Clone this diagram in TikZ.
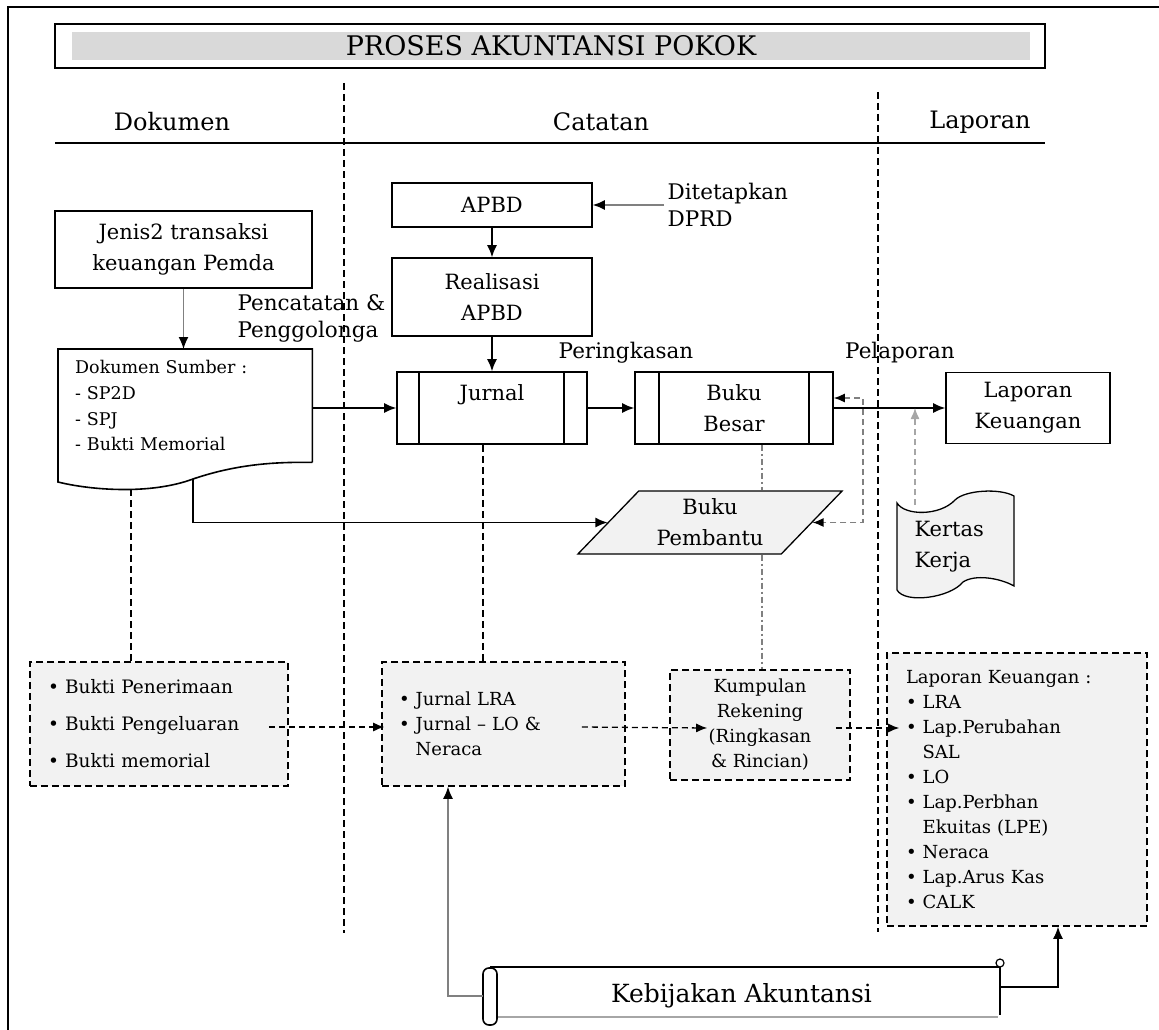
\documentclass[tikz,border=0pt]{standalone}
\usepackage{fontspec}
\setmainfont{DejaVu Serif}
\usetikzlibrary{shapes,arrows.meta,calc}
\definecolor{titlegray}{HTML}{D9D9D9}
\definecolor{boxgray}{HTML}{F2F2F2}
\definecolor{linegray}{HTML}{808080}
\definecolor{softgray}{HTML}{A6A6A6}
\newcommand{\fstitle}{\fontsize{27}{32}\selectfont}
\newcommand{\fshead}{\fontsize{24}{28}\selectfont}
\newcommand{\fsmain}{\fontsize{21}{31}\selectfont}
\newcommand{\fslabel}{\fontsize{21.5}{27}\selectfont}
\newcommand{\fsdoc}{\fontsize{17.5}{25.7}\selectfont}
\newcommand{\fsitem}{\fontsize{18}{25}\selectfont}
\newcommand{\fslist}{\fontsize{18.5}{37}\selectfont}
\newcommand{\fsscroll}{\fontsize{25}{30}\selectfont}
\tikzstyle{line} = [draw, -{Latex[length=12pt,width=10pt]}, line width=1.4pt]
\tikzstyle{gline} = [draw, -{Latex[length=12pt,width=10pt,black]}, line width=1.4pt, linegray]
\tikzstyle{dline} = [draw, -{Latex[length=11pt,width=9pt]}, line width=1.3pt, dash pattern=on 6pt off 4pt]
\tikzstyle{divider} = [draw, line width=1.3pt, dash pattern=on 7pt off 4pt]
\tikzstyle{gdash} = [draw, line width=1.3pt, linegray, dash pattern=on 6pt off 3pt on 2pt off 3pt]
\tikzstyle{block} = [draw, rectangle, align=center, line width=1.6pt, inner sep=0pt]
\tikzstyle{dbox} = [draw, rectangle, fill=boxgray, line width=1.6pt, dash pattern=on 7pt off 4pt, align=left]

\begin{document}
\begin{tikzpicture}[x=1pt, y=-1pt, font=\fsmain]
    \useasboundingbox (0,0) rectangle (1159,1030);
    % frame and title
    \draw[line width=1.5pt] (8,1030) -- (8,7) -- (1159,7);
    \node[draw, line width=1.8pt, minimum width=990pt, minimum height=44pt] (title) at (550,46) {};
    \node[fill=titlegray, inner sep=0pt, minimum width=958pt, minimum height=28pt, font=\fstitle] (titletext) at (551,46) {PROSES AKUNTANSI POKOK};
    \node[font=\fshead] (hdok) at (172,122) {Dokumen};
    \node[font=\fshead] (hcat) at (601,122) {Catatan};
    \node[font=\fshead] (hlap) at (980,122) {Laporan};
    \draw[line width=1.5pt] (55,143) -- (1045,143);
    \draw[divider] (344,83) -- (344,933);
    \draw[divider] (878,92) -- (878,932);

    % upper flow
    \node[block, minimum width=257pt, minimum height=77pt] (jenis) at (183.5,249.5) {Jenis2 transaksi\\keuangan Pemda};
    \node[block, minimum width=200pt, minimum height=44pt] (apbd) at (492,205) {APBD};
    \node[align=left, anchor=west, font=\fslabel] (dprd) at (664,205) {Ditetapkan\\DPRD};
    \node[block, minimum width=200pt, minimum height=78pt] (real) at (492,297) {Realisasi\\APBD};
    \node[align=left, anchor=west, font=\fslabel] (catat) at (234,318) {Pencatatan \&\\Penggolonga};
    \node[block, minimum width=190pt, minimum height=72pt] (jurnal) at (492,408) {Jurnal\\\mbox{}};
    \node[block, minimum width=198pt, minimum height=72pt] (bbesar) at (734,408) {Buku\\Besar};
    \node[block, minimum width=164pt, minimum height=71pt] (lapk) at (1028,408) {Laporan\\Keuangan};
    \node[font=\fslabel] (ringkas) at (626,353) {Peringkasan};
    \node[font=\fslabel] (lapor) at (900,353) {Pelaporan};
    \draw[line width=1.6pt] ($(jurnal.north west)+(23,0)$) -- ($(jurnal.south west)+(23,0)$);
    \draw[line width=1.6pt] ($(jurnal.north east)+(-24,0)$) -- ($(jurnal.south east)+(-24,0)$);
    \draw[line width=1.6pt] ($(bbesar.north west)+(25,0)$) -- ($(bbesar.south west)+(25,0)$);
    \draw[line width=1.6pt] ($(bbesar.north east)+(-25,0)$) -- ($(bbesar.south east)+(-25,0)$);

    % source document
    \node[minimum width=254pt, minimum height=113pt, text width=220pt, inner xsep=17pt, align=left, anchor=north west, font=\fsdoc] (docsrc) at (58,349) {Dokumen Sumber :\\- SP2D\\- SPJ\\- Bukti Memorial};
    \draw[line width=1.6pt] (docsrc.south east) -- (docsrc.north east) -- (docsrc.north west) -- (58,482) .. controls (90,490) and (150,495) .. (193,479) .. controls (240,463) and (280,462) .. (docsrc.south east);
    \coordinate (docw) at (131,489);
    \coordinate (docv) at (193,479);

    % Buku Pembantu and Kertas Kerja
    \node[trapezium, trapezium left angle=46, trapezium right angle=134, draw, line width=1.3pt, fill=boxgray, minimum width=246pt, minimum height=63pt, inner sep=0pt, align=center] (bp) at (710,522.5) {Buku\\Pembantu};
    \draw[line width=1.3pt, fill=boxgray] (897,590) -- (897,503) .. controls (905,516) and (940,516) .. (955,500) .. controls (965,490) and (1000,488) .. (1014,496) -- (1014,586) .. controls (1000,578) and (975,574) .. (963,582) .. controls (950,598) and (905,604) .. (897,590) -- cycle;
    \node[align=left, anchor=north west] (kertas) at (911,518) {Kertas\\Kerja};
    \coordinate (kktop) at (915,505);
    \coordinate (elbow) at (863,460);

    % lower boxes
    \node[dbox, minimum width=258pt, minimum height=124pt, text width=222pt, inner xsep=18pt, font=\fslist] (bukti) at (159,724) {• Bukti Penerimaan\\• Bukti Pengeluaran\\• Bukti memorial};
    \node[dbox, minimum width=243pt, minimum height=124pt, text width=209pt, inner xsep=17pt, font=\fsitem] (jlra) at (503.5,724) {• Jurnal LRA\\• Jurnal – LO \&\\\phantom{• }Neraca};
    \node[dbox, minimum width=180pt, minimum height=110pt, align=center, font=\fsitem, inner xsep=0pt] (krek) at (760,725) {Kumpulan\\Rekening\\(Ringkasan\\\& Rincian)};
    \node[dbox, minimum width=260pt, minimum height=273pt, text width=222pt, inner xsep=19pt, font=\fsitem] (lkbox) at (1017,789.5) {Laporan Keuangan :\\• LRA\\• Lap.Perubahan\\\phantom{• }SAL\\• LO\\• Lap.Perbhan\\\phantom{• }Ekuitas (LPE)\\• Neraca\\• Lap.Arus Kas\\• CALK};

    % scroll
    \node[minimum width=517pt, minimum height=58pt, font=\fsscroll] (scroll) at (741.5,996) {Kebijakan Akuntansi};
    \draw[line width=1.6pt] (490,967) -- (1000,967) -- (1000,1015);
    \draw[line width=2pt, softgray] (497,1017) -- (998,1017);
    \draw[line width=1.2pt, fill=white] (1000,963) circle (4);
    \draw[line width=1.6pt, fill=white, rounded corners=6pt] (483,968) rectangle (497,1025);

    % connectors
    \path[gline] (jenis.south) -- (jenis.south |- docsrc.north);
    \path[gline] (dprd.west) -- (apbd.east);
    \path[line] (apbd) -- (real);
    \path[line] (real) -- (jurnal);
    \path[line] (docsrc.east |- jurnal.west) -- (jurnal.west);
    \path[line] (jurnal) -- (bbesar);
    \path[line] (bbesar) -- (lapk);
    \path[line] (docv) |- (bp.west);
    \path[dline, linegray, {Latex[length=11pt,width=9pt,black]}-{Latex[length=11pt,width=9pt,black]}] ($(bbesar.east)+(0,-10)$) -| (elbow) |- (bp.east);
    \path[dline, softgray] (kktop) -- (kktop |- lapk.west);
    \draw[divider] (docw) -- (docw |- bukti.north);
    \draw[divider] ($(jurnal.south)+(-9,0)$) coordinate (jd) -- (jd |- jlra.north);
    \draw[gdash] ($(bbesar.south)+(28,0)$) coordinate (bbd) -- (bbd |- bp.north);
    \draw[gdash] (bbd |- bp.south) -- (bbd |- krek.north);
    \path[dline] ($(bukti.east)+(-20,3)$) -- ($(jlra.west)+(3,3)$);
    \path[dline] ($(jlra.east)+(-44,3)$) -- ($(krek.west)+(38,3)$);
    \path[dline] ($(krek.east)+(-15,3)$) -- ($(lkbox.west |- krek.east)+(13,3)$);
    \path[gline] (scroll.west) -| ($(jlra.south)+(-55.5,0)$);
    \path[line] ($(scroll.east)+(0,-9)$) -| ($(lkbox.south)+(41,0)$);
\end{tikzpicture}
\end{document}
